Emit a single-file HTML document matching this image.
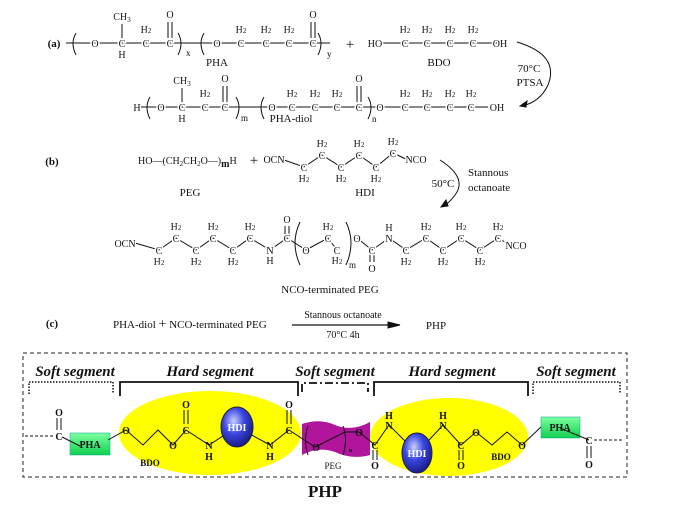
<!DOCTYPE html>
<html><head><meta charset="utf-8"><style>
html,body{margin:0;padding:0;background:#fff;}
svg{display:block;}
text{font-family:"Liberation Serif",serif;fill:#111;}
.a{font-size:10px;text-anchor:middle;paint-order:stroke;stroke:#fff;stroke-width:3px;}
.b{font-weight:bold;}
.l{font-size:11px;text-anchor:middle;}
.seg{font-size:15px;font-weight:bold;font-style:italic;text-anchor:middle;}
line,path,polyline{stroke:#111;fill:none;}
</style></head><body>
<svg width="679" height="511" viewBox="0 0 679 511">
<!-- (a) row 1 -->
<text x="54" y="47" style="font-size:11px;font-weight:bold" text-anchor="middle">(a)</text>
<line x1="66" y1="43" x2="330" y2="43"/>
<line x1="380" y1="43" x2="498" y2="43"/>
<path d="M76 33 Q70 43 76 55"/><path d="M178 33 Q184 43 178 55"/>
<path d="M204 33 Q198 43 204 55"/><path d="M318 33 Q324 43 318 55"/>
<line x1="122" y1="24" x2="122" y2="38"/>
<line x1="168" y1="22" x2="168" y2="38"/><line x1="172" y1="22" x2="172" y2="38"/>
<line x1="311" y1="22" x2="311" y2="38"/><line x1="315" y1="22" x2="315" y2="38"/>
<text class="a" x="122" y="20">CH<tspan font-size="7" dy="2">3</tspan></text>
<text class="a" x="170" y="18">O</text><text class="a" x="313" y="18">O</text>
<text class="a" x="95" y="47">O</text><text class="a" x="122" y="47">C</text><text class="a" x="146" y="47">C</text><text class="a" x="170" y="47">C</text>
<text class="a" x="122" y="58">H</text><text class="a" x="146" y="33">H<tspan font-size="7">2</tspan></text>
<text x="186" y="56" style="font-size:9px">x</text>
<text class="a" x="217" y="47">O</text><text class="a" x="241" y="47">C</text><text class="a" x="266" y="47">C</text><text class="a" x="289" y="47">C</text><text class="a" x="313" y="47">C</text>
<text class="a" x="241" y="33">H<tspan font-size="7">2</tspan></text><text class="a" x="266" y="33">H<tspan font-size="7">2</tspan></text><text class="a" x="289" y="33">H<tspan font-size="7">2</tspan></text>
<text x="327" y="57" style="font-size:9px">y</text>
<text x="350" y="49" style="font-size:15px" text-anchor="middle">+</text>
<text class="a" x="375" y="47">HO</text><text class="a" x="405" y="47">C</text><text class="a" x="427" y="47">C</text><text class="a" x="450" y="47">C</text><text class="a" x="473" y="47">C</text><text class="a" x="500" y="47">OH</text>
<text class="a" x="405" y="33">H<tspan font-size="7">2</tspan></text><text class="a" x="427" y="33">H<tspan font-size="7">2</tspan></text><text class="a" x="450" y="33">H<tspan font-size="7">2</tspan></text><text class="a" x="473" y="33">H<tspan font-size="7">2</tspan></text>
<text class="l" x="217" y="66">PHA</text><text class="l" x="439" y="66">BDO</text>
<path d="M517 42 Q560 55 548 85 Q540 102 522 106"/>
<path d="M520 106 l7 -5 l-1 6 z" style="fill:#111"/>
<text class="l" x="529" y="72">70°C</text><text class="l" x="530" y="86">PTSA</text>
<!-- row 2 -->
<line x1="138" y1="107" x2="488" y2="107"/>
<path d="M150 97 Q144 107 150 119"/><path d="M236 97 Q242 107 236 119"/>
<path d="M264 97 Q258 107 264 119"/><path d="M368 97 Q374 107 368 119"/>
<line x1="182" y1="88" x2="182" y2="102"/>
<line x1="223" y1="86" x2="223" y2="102"/><line x1="227" y1="86" x2="227" y2="102"/>
<line x1="357" y1="86" x2="357" y2="102"/><line x1="361" y1="86" x2="361" y2="102"/>
<text class="a" x="137" y="111">H</text>
<text class="a" x="182" y="84">CH<tspan font-size="7" dy="2">3</tspan></text>
<text class="a" x="225" y="82">O</text><text class="a" x="359" y="82">O</text>
<text class="a" x="161" y="111">O</text><text class="a" x="182" y="111">C</text><text class="a" x="205" y="111">C</text><text class="a" x="225" y="111">C</text>
<text class="a" x="182" y="122">H</text><text class="a" x="205" y="97">H<tspan font-size="7">2</tspan></text>
<text x="241" y="121" style="font-size:9px">m</text>
<text class="a" x="272" y="111">O</text><text class="a" x="292" y="111">C</text><text class="a" x="315" y="111">C</text><text class="a" x="337" y="111">C</text><text class="a" x="359" y="111">C</text>
<text class="a" x="292" y="97">H<tspan font-size="7">2</tspan></text><text class="a" x="315" y="97">H<tspan font-size="7">2</tspan></text><text class="a" x="337" y="97">H<tspan font-size="7">2</tspan></text>
<text x="372" y="122" style="font-size:9px">n</text>
<text class="a" x="380" y="111">O</text><text class="a" x="405" y="111">C</text><text class="a" x="427" y="111">C</text><text class="a" x="450" y="111">C</text><text class="a" x="471" y="111">C</text><text class="a" x="497" y="111">OH</text>
<text class="a" x="405" y="97">H<tspan font-size="7">2</tspan></text><text class="a" x="427" y="97">H<tspan font-size="7">2</tspan></text><text class="a" x="450" y="97">H<tspan font-size="7">2</tspan></text><text class="a" x="471" y="97">H<tspan font-size="7">2</tspan></text>
<text class="l" x="291" y="122">PHA-diol</text>

<!-- (b) -->
<text x="52" y="165" style="font-size:11px;font-weight:bold" text-anchor="middle">(b)</text>
<text x="138" y="164" style="font-size:10px">HO—(CH<tspan font-size="7" dy="2">2</tspan><tspan dy="-2">CH</tspan><tspan font-size="7" dy="2">2</tspan><tspan dy="-2">O—)</tspan><tspan font-weight="bold" dy="3">m</tspan><tspan dy="-3">H</tspan></text>
<text x="254" y="165" style="font-size:15px" text-anchor="middle">+</text>
<polyline points="284,160 304,167 322,155 341,167 359,155 376,167 393,153 408,160"/>
<text class="a" x="274" y="163">OCN</text>
<text class="a" x="304" y="171">C</text><text class="a" x="322" y="159">C</text><text class="a" x="341" y="171">C</text><text class="a" x="359" y="159">C</text><text class="a" x="376" y="171">C</text><text class="a" x="393" y="157">C</text>
<text class="a" x="416" y="163">NCO</text>
<text class="a" x="322" y="147">H<tspan font-size="7">2</tspan></text><text class="a" x="359" y="147">H<tspan font-size="7">2</tspan></text><text class="a" x="393" y="145">H<tspan font-size="7">2</tspan></text>
<text class="a" x="304" y="182">H<tspan font-size="7">2</tspan></text><text class="a" x="341" y="182">H<tspan font-size="7">2</tspan></text><text class="a" x="376" y="182">H<tspan font-size="7">2</tspan></text>
<text class="l" x="190" y="196">PEG</text><text class="l" x="365" y="196">HDI</text>
<path d="M440 160 Q468 178 455 195 Q450 202 444 206"/>
<path d="M441 207 l5 -7 l2 6 z" style="fill:#111"/>
<text class="l" x="443" y="187">50°C</text>
<text x="468" y="176" style="font-size:11px">Stannous</text>
<text x="468" y="191" style="font-size:11px">octanoate</text>
<!-- product -->
<polyline points="135,243 159,250 176,238 196,250 213,238 233,250 250,238 270,250 287,238 306,250 328,238 337,250"/>
<polyline points="357,238 372,250 389,238 406,250 426,238 443,250 461,238 480,250 498,238 510,245"/>
<path d="M300 222 Q290 243 300 265"/><path d="M346 222 Q356 243 346 265"/>
<line x1="285" y1="226" x2="285" y2="236"/><line x1="289" y1="226" x2="289" y2="236"/>
<line x1="370" y1="252" x2="370" y2="262"/><line x1="374" y1="252" x2="374" y2="262"/>
<text class="a" x="125" y="247">OCN</text>
<text class="a" x="159" y="254">C</text><text class="a" x="176" y="242">C</text><text class="a" x="196" y="254">C</text><text class="a" x="213" y="242">C</text><text class="a" x="233" y="254">C</text><text class="a" x="250" y="242">C</text>
<text class="a" x="270" y="254">N</text><text class="a" x="270" y="264">H</text>
<text class="a" x="287" y="242">C</text><text class="a" x="287" y="223">O</text>
<text class="a" x="306" y="254">O</text><text class="a" x="328" y="242">C</text><text class="a" x="337" y="254">C</text>
<text class="a" x="328" y="230">H<tspan font-size="7">2</tspan></text><text class="a" x="337" y="264">H<tspan font-size="7">2</tspan></text>
<text x="349" y="268" style="font-size:9px">m</text>
<text class="a" x="357" y="242">O</text><text class="a" x="372" y="254">C</text><text class="a" x="372" y="272">O</text>
<text class="a" x="389" y="242">N</text><text class="a" x="389" y="231">H</text>
<text class="a" x="406" y="254">C</text><text class="a" x="426" y="242">C</text><text class="a" x="443" y="254">C</text><text class="a" x="461" y="242">C</text><text class="a" x="480" y="254">C</text><text class="a" x="498" y="242">C</text>
<text class="a" x="516" y="249">NCO</text>
<text class="a" x="176" y="230">H<tspan font-size="7">2</tspan></text><text class="a" x="213" y="230">H<tspan font-size="7">2</tspan></text><text class="a" x="250" y="230">H<tspan font-size="7">2</tspan></text>
<text class="a" x="159" y="265">H<tspan font-size="7">2</tspan></text><text class="a" x="196" y="265">H<tspan font-size="7">2</tspan></text><text class="a" x="233" y="265">H<tspan font-size="7">2</tspan></text>
<text class="a" x="426" y="230">H<tspan font-size="7">2</tspan></text><text class="a" x="461" y="230">H<tspan font-size="7">2</tspan></text><text class="a" x="498" y="230">H<tspan font-size="7">2</tspan></text>
<text class="a" x="406" y="265">H<tspan font-size="7">2</tspan></text><text class="a" x="443" y="265">H<tspan font-size="7">2</tspan></text><text class="a" x="480" y="265">H<tspan font-size="7">2</tspan></text>
<text class="l" x="330" y="293">NCO-terminated PEG</text>

<!-- (c) -->
<text x="52" y="327" style="font-size:11px;font-weight:bold" text-anchor="middle">(c)</text>
<text x="113" y="328" style="font-size:11px">PHA-diol <tspan font-size="14">+</tspan> NCO-terminated PEG</text>
<line x1="292" y1="325" x2="392" y2="325" stroke-width="1.2"/>
<path d="M400 325 l-12 -3 l0 6 z" style="fill:#111"/>
<text x="343" y="318" style="font-size:10px" text-anchor="middle">Stannous octanoate</text>
<text x="343" y="338" style="font-size:10px" text-anchor="middle">70°C    4h</text>
<text x="436" y="329" style="font-size:11px" text-anchor="middle">PHP</text>

<!-- PHP diagram -->
<rect x="23" y="353" width="604" height="124" stroke="#222" stroke-dasharray="4,3" fill="none"/>
<text class="seg" x="75" y="376">Soft segment</text>
<text class="seg" x="210" y="376">Hard segment</text>
<text class="seg" x="335" y="376">Soft segment</text>
<text class="seg" x="452" y="376">Hard segment</text>
<text class="seg" x="576" y="376">Soft segment</text>
<path d="M29 394 V382 H113 V394" stroke-dasharray="1.5,1.5" stroke-width="1.5"/>
<path d="M120 396 V382 H298 V396" stroke-width="1.8"/>
<path d="M302 392 V383 H368 V392" stroke-dasharray="8,3,2,3" stroke-width="1.8"/>
<path d="M374 396 V382 H528 V396" stroke-width="1.8"/>
<path d="M533 394 V382 H620 V394" stroke-dasharray="1.5,1.5" stroke-width="1.5"/>
<ellipse cx="210" cy="433" rx="91" ry="42" fill="#ffff00" stroke="none"/>
<ellipse cx="449" cy="437" rx="79" ry="39" fill="#ffff00" stroke="none"/>
<path d="M302 424 Q320 418 335 425 Q352 432 370 422 L370 455 Q352 460 335 452 Q318 446 302 455 Z" style="fill:#b0159c;stroke:none"/>
<defs><radialGradient id="g" cx="40%" cy="35%" r="65%"><stop offset="0" stop-color="#c8d0ff"/><stop offset="0.5" stop-color="#3a46e0"/><stop offset="1" stop-color="#1a1f8a"/></radialGradient>
<linearGradient id="gr" x1="0" y1="0" x2="0" y2="1"><stop offset="0" stop-color="#7dffa0"/><stop offset="1" stop-color="#10d050"/></linearGradient></defs>
<line x1="25" y1="436" x2="54" y2="436" stroke-dasharray="3,2"/>
<line x1="594" y1="440" x2="622" y2="440" stroke-dasharray="3,2"/>
<rect x="70" y="433" width="40" height="22" fill="url(#gr)" stroke="#0a8" stroke-width="0.5"/>
<rect x="541" y="417" width="39" height="21" fill="url(#gr)" stroke="#0a8" stroke-width="0.5"/>
<polyline points="62,437 80,446"/>
<polyline points="108,440 126,430 143,445 158,430 173,445 186,430 209,445 237,427 270,445 289,430 315,447 345,432 359,432 375,445 389,425 417,453 443,425 461,445 476,432 492,445 507,432 522,445 541,427"/>
<polyline points="560,428 589,440"/>
<line x1="57" y1="418" x2="57" y2="430"/><line x1="61" y1="418" x2="61" y2="430"/>
<line x1="184" y1="410" x2="184" y2="424"/><line x1="188" y1="410" x2="188" y2="424"/>
<line x1="287" y1="410" x2="287" y2="424"/><line x1="291" y1="410" x2="291" y2="424"/>
<line x1="373" y1="450" x2="373" y2="460"/><line x1="377" y1="450" x2="377" y2="460"/>
<line x1="459" y1="450" x2="459" y2="460"/><line x1="463" y1="450" x2="463" y2="460"/>
<line x1="587" y1="446" x2="587" y2="458"/><line x1="591" y1="446" x2="591" y2="458"/>
<path d="M308 426 Q303 440 308 455"/><path d="M343 426 Q348 440 343 455"/>
<ellipse cx="237" cy="427" rx="16" ry="20" fill="url(#g)" stroke="#223"/>
<ellipse cx="417" cy="453" rx="15" ry="20" fill="url(#g)" stroke="#223"/>
<text x="237" y="431" style="font-size:10px;font-weight:bold;fill:#fff" text-anchor="middle">HDI</text>
<text x="417" y="457" style="font-size:10px;font-weight:bold;fill:#fff" text-anchor="middle">HDI</text>
<text x="90" y="448" style="font-size:10px;font-weight:bold" text-anchor="middle">PHA</text>
<text x="560" y="431" style="font-size:10px;font-weight:bold" text-anchor="middle">PHA</text>
<g class="b">
<text class="a" x="59" y="440" style="stroke:none">C</text><text class="a" x="59" y="416" style="stroke:none">O</text>
<text class="a" x="126" y="434" style="stroke:none">O</text><text class="a" x="173" y="449" style="stroke:none">O</text>
<text class="a" x="186" y="434" style="stroke:none">C</text><text class="a" x="186" y="408" style="stroke:none">O</text>
<text class="a" x="209" y="449" style="stroke:none">N</text><text class="a" x="209" y="460" style="stroke:none">H</text>
<text class="a" x="270" y="449" style="stroke:none">N</text><text class="a" x="270" y="460" style="stroke:none">H</text>
<text class="a" x="289" y="434" style="stroke:none">C</text><text class="a" x="289" y="408" style="stroke:none">O</text>
<text class="a" x="316" y="451" style="stroke:none">O</text><text class="a" x="359" y="436" style="stroke:none">O</text>
<text x="349" y="452" style="font-size:6px">n</text>
<text class="a" x="375" y="449" style="stroke:none">C</text><text class="a" x="375" y="469" style="stroke:none">O</text>
<text class="a" x="389" y="429" style="stroke:none">N</text><text class="a" x="389" y="419" style="stroke:none">H</text>
<text class="a" x="443" y="429" style="stroke:none">N</text><text class="a" x="443" y="419" style="stroke:none">H</text>
<text class="a" x="461" y="449" style="stroke:none">C</text><text class="a" x="461" y="469" style="stroke:none">O</text>
<text class="a" x="476" y="436" style="stroke:none">O</text><text class="a" x="522" y="449" style="stroke:none">O</text>
<text class="a" x="589" y="444" style="stroke:none">C</text><text class="a" x="589" y="468" style="stroke:none">O</text>
</g>
<text x="150" y="466" style="font-size:9px;font-weight:bold" text-anchor="middle">BDO</text>
<text x="333" y="469" style="font-size:9px" text-anchor="middle">PEG</text>
<text x="501" y="460" style="font-size:9px;font-weight:bold" text-anchor="middle">BDO</text>
<text x="325" y="497" style="font-size:17px;font-weight:bold" text-anchor="middle">PHP</text>
</svg>
</body></html>
